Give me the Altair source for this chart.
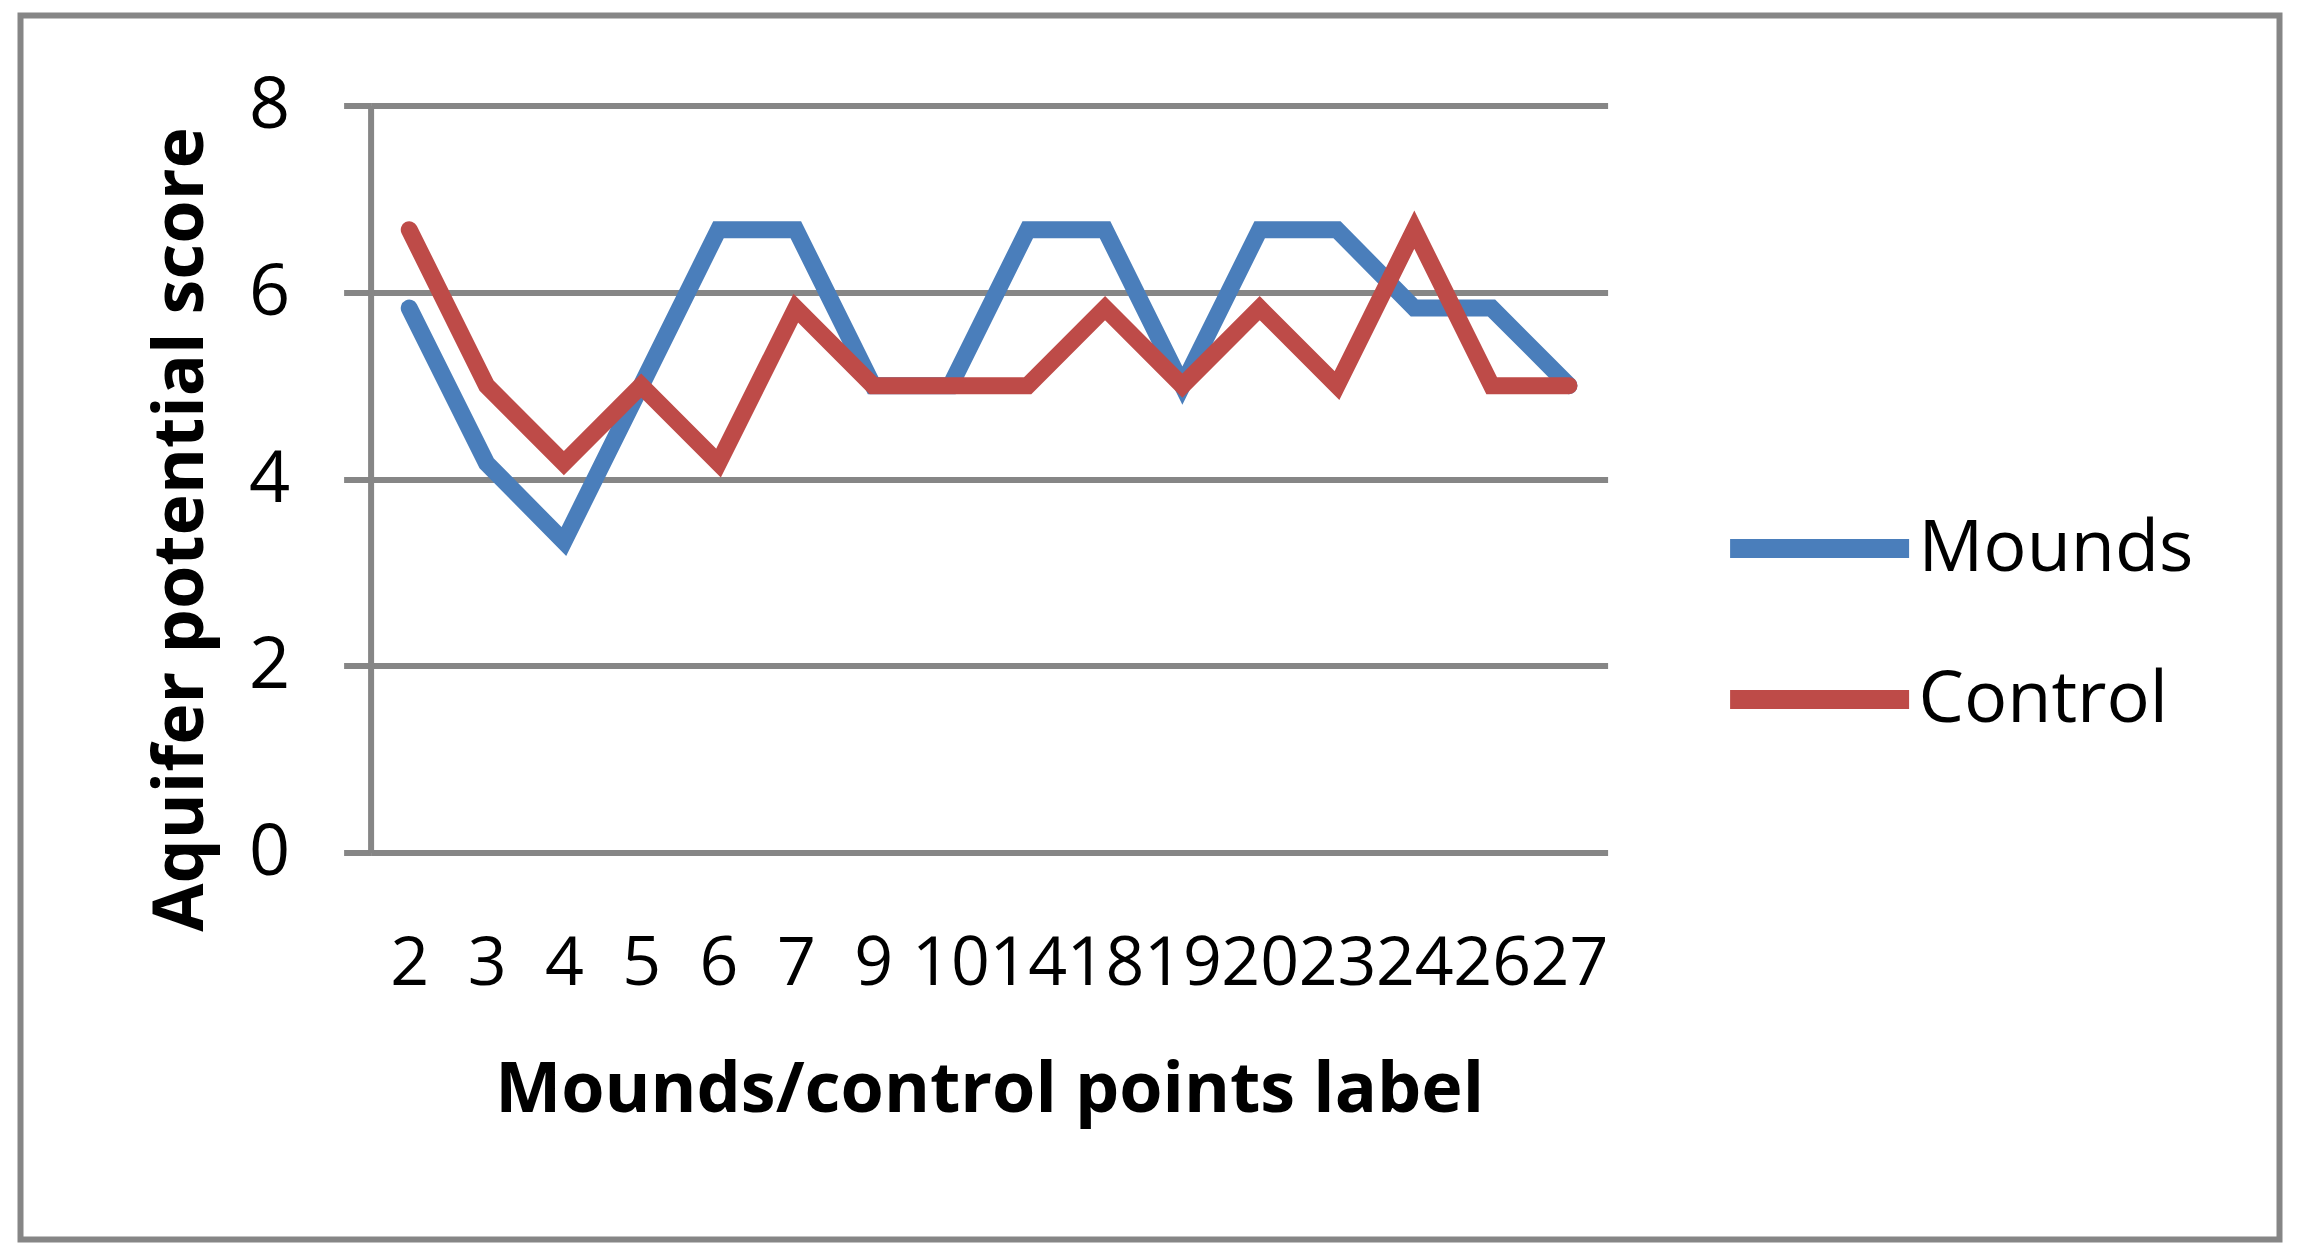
import altair as alt
import pandas as pd

labels = ["2", "3", "4", "5", "6", "7", "9", "10", "14", "18", "19", "20", "23", "24", "26", "27"]
mounds = [5.83, 4.17, 3.33, 5.0, 6.67, 6.67, 5.0, 5.0, 6.67, 6.67, 5.0, 6.67, 6.67, 5.83, 5.83, 5.0]
control = [6.67, 5.0, 4.17, 5.0, 4.17, 5.83, 5.0, 5.0, 5.0, 5.83, 5.0, 5.83, 5.0, 6.67, 5.0, 5.0]
series = ["Mounds", "Control"]
colors = ["#4A7EBB", "#BE4B48"]
y_ticks = [0, 2, 4, 6, 8]

rows = []
for s, vals in zip(series, [mounds, control]):
    for i, (lab, v) in enumerate(zip(labels, vals)):
        rows.append({"label": lab, "score": v, "series": s, "idx": i})
df = pd.DataFrame(rows)

GRAY = "#868686"
FONT = "Open Sans"
W, H = 1237, 747
PL, PT = 362.6, 97.5
PR = 2281 - PL - W
PB = 1240 - PT - H

border = alt.Chart(alt.Data(values=[{"a": 1}])).mark_rect(
    filled=False, color=GRAY, strokeWidth=6
).encode(
    x=alt.value(20.5 - 370.6), x2=alt.value(2279.5 - 370.6),
    y=alt.value(15.5 - 105.5), y2=alt.value(1239.5 - 105.5)
)

lines = alt.Chart(df).mark_line(strokeWidth=17, strokeCap="round").encode(
    x=alt.X(
        "label:N", sort=labels,
        scale=alt.Scale(type="point", padding=0.5),
        axis=alt.Axis(
            title="Mounds/control points label", labelAngle=0, domain=False,
            ticks=False, grid=False, labelFont=FONT, labelFontSize=68,
            labelColor="black", labelBaseline="alphabetic", labelPadding=132,
            labelOverlap=False, titleFont=FONT, titleFontSize=70,
            titleFontWeight="bold", titleColor="black",
            titleBaseline="alphabetic", titleX=W / 2, titleY=259,
            titleAlign="center",
        ),
    ),
    y=alt.Y(
        "score:Q", scale=alt.Scale(domain=[0, 8], nice=False),
        axis=alt.Axis(
            values=y_ticks, title="Aquifer potential score", grid=True,
            gridColor=GRAY, gridWidth=6, gridOpacity=1, domainColor=GRAY,
            domainWidth=6, tickColor=GRAY, tickWidth=6, tickSize=27,
            labelFont=FONT, labelFontSize=72, labelPadding=54,
            labelColor="black", titleFont=FONT, titleFontSize=70,
            titleFontWeight="bold", titleColor="black", titleAngle=270,
            titleBaseline="alphabetic", titleX=-168, titleY=423.5,
            titleAlign="center",
        ),
    ),
    color=alt.Color(
        "series:N", sort=series,
        scale=alt.Scale(domain=series, range=colors),
        legend=alt.Legend(
            title=None, orient="none", legendX=1350, legendY=344,
            symbolType="stroke", symbolSize=179 ** 2, symbolStrokeWidth=19,
            labelFont=FONT, labelFontSize=72, labelColor="black",
            labelOffset=0, labelLimit=0, padding=0, rowPadding=14,
        ),
    ),
    order=alt.Order("idx:Q"),
)

chart = alt.layer(border, lines).properties(
    width=W, height=H,
    padding={"left": PL, "top": PT, "right": PR, "bottom": PB},
    autosize=alt.AutoSizeParams(type="none"),
    background="white",
).configure_view(stroke=None)

chart.save("out.html", embed_options={"renderer": "svg", "actions": False})
